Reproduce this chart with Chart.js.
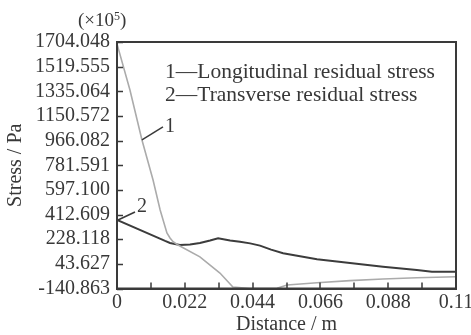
<!DOCTYPE html>
<html>
<head>
<meta charset="utf-8">
<script src="https://cdn.jsdelivr.net/npm/chart.js@4/dist/chart.umd.min.js"></script>
<style>
  html, body { margin: 0; padding: 0; background: #fff; }
  #chart { display: block; }
</style>
</head>
<body>
<canvas id="chart" width="471" height="335"></canvas>
<script>
// curve 1 - longitudinal residual stress (x10^5 Pa)
const longDistance = [0, 0.0042, 0.0081, 0.0117, 0.0140, 0.0162, 0.0172, 0.0182, 0.0198, 0.0269, 0.0334, 0.0376, 0.0432, 0.0519, 0.0552, 0.0649, 0.0756, 0.0863, 0.0973, 0.11];
const longStress = [1690, 1345, 971, 671, 447, 275, 237, 209, 185, 96, -25, -130, -141, -139, -115, -98, -82, -70, -60, -53];

// curve 2 - transverse residual stress (x10^5 Pa)
const transDistance = [0, 0.0156, 0.0172, 0.0204, 0.0237, 0.0269, 0.0302, 0.0328, 0.0367, 0.0399, 0.0432, 0.0464, 0.0500, 0.0539, 0.0649, 0.0756, 0.0863, 0.0973, 0.1022, 0.11];
const transStress = [372, 215, 200, 185, 188, 200, 218, 235, 218, 209, 197, 180, 150, 123, 78, 50, 22, -2, -15, -15];

const xTicks = [0, 0.011, 0.022, 0.033, 0.044, 0.055, 0.066, 0.077, 0.088, 0.099, 0.11];
const xTickLabels = ['0', '', '0.022', '', '0.044', '', '0.066', '', '0.088', '', '0.11'];
const yTicks = [-140.863, 43.627, 228.118, 412.609, 597.100, 781.591, 966.082, 1150.572, 1335.064, 1519.555, 1704.048];
const yTickLabels = ['-140.863', '43.627', '228.118', '412.609', '597.100', '781.591', '966.082', '1150.572', '1335.064', '1519.555', '1704.048'];

const legendLines = ['1\u2014Longitudinal residual stress', '2\u2014Transverse residual stress'];

const FONT = 'Liberation Serif, Times New Roman, serif';
const TEXT = '#383838';
const AXIS = '#3a3a3a';

function toPoints(xs, ys) {
  return xs.map((x, i) => ({ x: x, y: ys[i] }));
}

// frame, inward tick marks and the text notes
const decorations = {
  id: 'decorations',
  afterDraw(chart) {
    const ctx = chart.ctx;
    const area = chart.chartArea;
    const xs = chart.scales.x;
    const ys = chart.scales.y;
    ctx.save();

    ctx.strokeStyle = AXIS;
    ctx.lineWidth = 2;
    ctx.strokeRect(area.left, area.top, area.right - area.left, area.bottom - area.top);

    ctx.lineWidth = 1.5;
    ctx.beginPath();
    ys.ticks.forEach((t) => {
      const py = Math.round(ys.getPixelForValue(t.value)) + 0.5;
      ctx.moveTo(area.left, py);
      ctx.lineTo(area.left + 6, py);
    });
    xs.ticks.forEach((t) => {
      const px = Math.round(xs.getPixelForValue(t.value));
      ctx.moveTo(px, area.bottom);
      ctx.lineTo(px, area.bottom - 6);
    });
    ctx.stroke();

    ctx.fillStyle = TEXT;
    ctx.textBaseline = 'alphabetic';
    ctx.textAlign = 'left';

    // unit note above the y axis
    ctx.font = '19px ' + FONT;
    ctx.fillText('(\u00d710', 78, 26);
    let w = ctx.measureText('(\u00d710').width;
    ctx.font = '12px ' + FONT;
    ctx.fillText('5', 78 + w, 20);
    let w2 = ctx.measureText('5').width;
    ctx.font = '19px ' + FONT;
    ctx.fillText(')', 78 + w + w2, 26);

    // legend text
    ctx.font = '21.5px ' + FONT;
    ctx.fillText(legendLines[0], 165, 78);
    ctx.fillText(legendLines[1], 165, 101);

    // curve labels with leader lines
    ctx.font = '20px ' + FONT;
    ctx.strokeStyle = AXIS;
    ctx.lineWidth = 1.5;
    const a1x = xs.getPixelForValue(longDistance[2]);
    const a1y = ys.getPixelForValue(longStress[2]);
    ctx.beginPath();
    ctx.moveTo(a1x, a1y);
    ctx.lineTo(a1x + 21, a1y - 13);
    ctx.stroke();
    ctx.fillText('1', a1x + 23, a1y - 8);

    const a2x = xs.getPixelForValue(transDistance[0]);
    const a2y = ys.getPixelForValue(transStress[0]);
    ctx.beginPath();
    ctx.moveTo(a2x + 1, a2y);
    ctx.lineTo(a2x + 18, a2y - 8);
    ctx.stroke();
    ctx.fillText('2', a2x + 20, a2y - 8);

    ctx.restore();
  },
};

const ctx = document.getElementById('chart').getContext('2d');
const chart = new Chart(ctx, {
  type: 'line',
  data: {
    datasets: [
      {
        label: 'Longitudinal residual stress',
        data: toPoints(longDistance, longStress),
        borderColor: '#ababab',
        borderWidth: 1.6,
        pointRadius: 0,
        tension: 0,
        fill: false,
      },
      {
        label: 'Transverse residual stress',
        data: toPoints(transDistance, transStress),
        borderColor: '#3c3c3c',
        borderWidth: 2,
        pointRadius: 0,
        tension: 0,
        fill: false,
      },
    ],
  },
  options: {
    responsive: false,
    animation: false,
    devicePixelRatio: 1,
    layout: { padding: { top: 42, right: 15, bottom: 0, left: 0 } },
    plugins: {
      legend: { display: false },
      tooltip: { enabled: false },
    },
    scales: {
      x: {
        type: 'linear',
        min: 0,
        max: 0.11,
        afterBuildTicks: (s) => { s.ticks = xTicks.map((v) => ({ value: v })); },
        afterFit: (s) => { s.paddingLeft = 0; s.paddingRight = 0; s.height = 46.5; },
        ticks: {
          autoSkip: false,
          maxRotation: 0,
          padding: 2,
          color: TEXT,
          font: { family: FONT, size: 20 },
          callback: (v, i) => xTickLabels[i],
        },
        grid: { drawOnChartArea: false, drawTicks: false },
        border: { display: true, color: AXIS, width: 2 },
        title: {
          display: true,
          text: 'Distance / m',
          color: TEXT,
          font: { family: FONT, size: 20, lineHeight: 1.05 },
          padding: { top: 0, bottom: 0 },
        },
      },
      y: {
        type: 'linear',
        min: -140.863,
        max: 1704.048,
        afterBuildTicks: (s) => { s.ticks = yTicks.map((v) => ({ value: v })); },
        afterFit: (s) => { s.paddingTop = 0; s.paddingBottom = 0; s.width = 117; },
        ticks: {
          autoSkip: false,
          padding: 7,
          color: TEXT,
          font: { family: FONT, size: 20 },
          callback: (v, i) => yTickLabels[i],
        },
        grid: { drawOnChartArea: false, drawTicks: false },
        border: { display: true, color: AXIS, width: 2 },
        title: {
          display: true,
          text: 'Stress / Pa',
          color: TEXT,
          font: { family: FONT, size: 20 },
          padding: { top: 4, bottom: 4 },
        },
      },
    },
  },
  plugins: [decorations],
});
</script>
</body>
</html>
